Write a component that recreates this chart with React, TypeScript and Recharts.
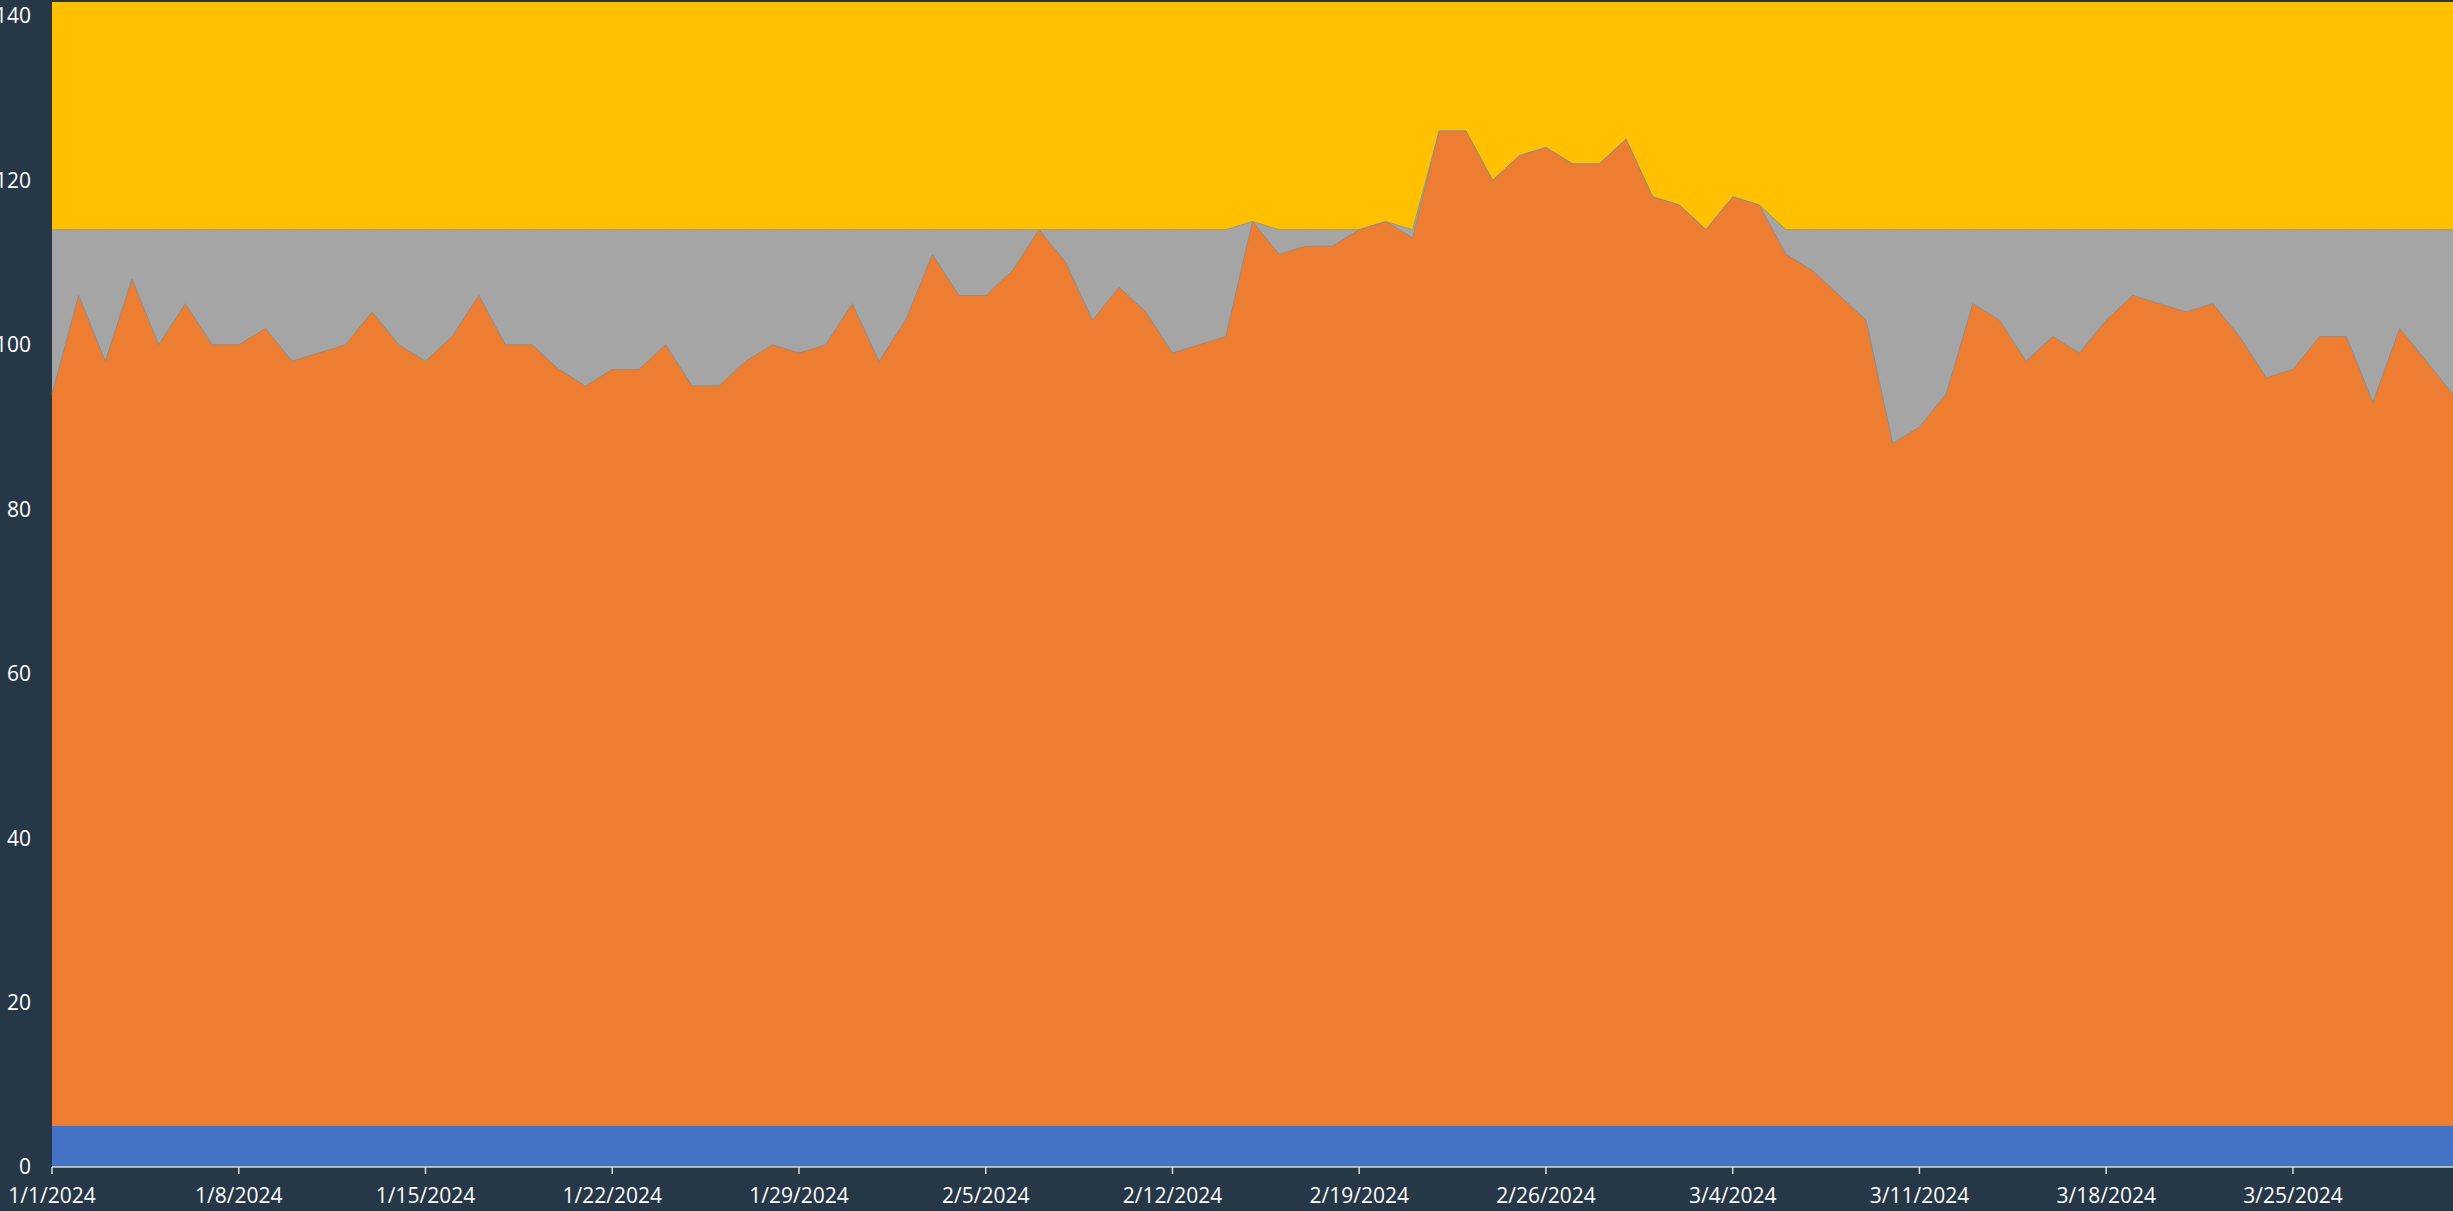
import React from 'react'
import { AreaChart, Area, XAxis, YAxis } from 'recharts'

// daily values, 1/1/2024 .. 3/31/2024
const startDate = new Date(2024, 0, 1)
const dayCount = 91

const actual = [
  94, 106, 98, 108, 100, 105, 100, 100, 102, 98, 99, 100, 104, 100, 98, 101,
  106, 100, 100, 97, 95, 97, 97, 100, 95, 95, 98, 100, 99, 100, 105, 98,
  103, 111, 106, 106, 109, 114, 110, 103, 107, 104, 99, 100, 101, 115, 111, 112,
  112, 114, 115, 113, 126, 126, 120, 123, 124, 122, 122, 125, 118, 117, 114, 118,
  117, 111, 109, 106, 103, 88, 90, 94, 105, 103, 98, 101, 99, 103, 106, 105,
  104, 105, 101, 96, 97, 101, 101, 93, 102, 98, 94,
]

const upperBand = 114
const ceiling = 141.7
const floorBand = 5

const tickDates = [
  '1/1/2024', '1/8/2024', '1/15/2024', '1/22/2024', '1/29/2024', '2/5/2024', '2/12/2024',
  '2/19/2024', '2/26/2024', '3/4/2024', '3/11/2024', '3/18/2024', '3/25/2024',
]
const yTicks = [0, 20, 40, 60, 80, 100, 120, 140]

const dates = Array.from({ length: dayCount }, (_, i) => {
  const d = new Date(startDate)
  d.setDate(d.getDate() + i)
  return `${d.getMonth() + 1}/${d.getDate()}/${d.getFullYear()}`
})

const data = dates.map((date, i) => ({
  date,
  top: ceiling,
  band: Math.max(upperBand, actual[i]),
  actual: actual[i],
  base: floorBand,
}))

const BG = '#263847'
const tickStyle = { fill: '#ffffff', fontSize: 21, fontFamily: 'Open Sans, sans-serif' }

export default function App() {
  return (
    <div style={{ position: 'absolute', left: 0, top: 0, width: 2453, height: 1211, background: BG, overflow: 'hidden' }}>
      <AreaChart width={2453} height={1211} data={data} margin={{ top: 2, right: 0, bottom: 0, left: 0 }}>
        <XAxis
          dataKey="date"
          ticks={tickDates}
          interval={0}
          height={44}
          tick={tickStyle}
          tickSize={7}
          tickMargin={14}
          axisLine={{ stroke: '#d9d9d9', strokeWidth: 1.5 }}
          tickLine={{ stroke: '#d9d9d9', strokeWidth: 1.5 }}
        />
        <YAxis
          domain={[0, ceiling]}
          ticks={yTicks}
          width={52}
          tick={tickStyle}
          tickSize={0}
          tickMargin={21}
          axisLine={false}
          tickLine={false}
        />
        <Area dataKey="top" type="linear" fill="#FFC000" fillOpacity={1} stroke="none" isAnimationActive={false} />
        <Area dataKey="band" type="linear" fill="#A5A5A5" fillOpacity={1} stroke="#b39a3c" strokeWidth={1} isAnimationActive={false} />
        <Area dataKey="actual" type="linear" fill="#ED7D31" fillOpacity={1} stroke="#8e8e8e" strokeWidth={1} isAnimationActive={false} />
        <Area dataKey="base" type="linear" fill="#4472C4" fillOpacity={1} stroke="none" isAnimationActive={false} />
      </AreaChart>
    </div>
  )
}
